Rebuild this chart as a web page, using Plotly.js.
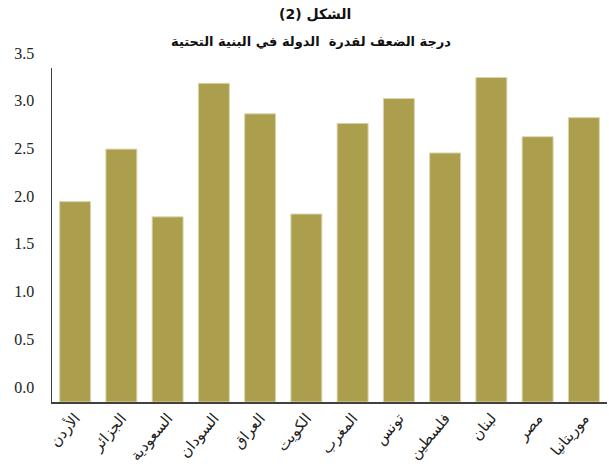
<!DOCTYPE html>
<html>
<head>
<meta charset="utf-8">
<script src="https://cdn.plot.ly/plotly-3.0.1.min.js"></script>
<style>html,body{margin:0;padding:0;background:#fff;}#chart{width:609px;height:464px;}</style>
</head>
<body>
<div id="chart"></div>
<script>
const countries = ["الأردن","الجزائر","السعودية","السودان","العراق","الكويت","المغرب","تونس","فلسطين","لبنان","مصر","موريتانيا"];
const weakness = [2.10, 2.65, 1.94, 3.34, 3.02, 1.97, 2.92, 3.18, 2.61, 3.40, 2.78, 2.98];
const yTicks = [0, 0.5, 1.0, 1.5, 2.0, 2.5, 3.0, 3.5];
const yTickText = ["0.0","0.5","1.0","1.5","2.0","2.5","3.0","3.5"];
const titleLine1 = "الشكل (2)";
const titleLine2 = "درجة الضعف لقدرة  الدولة في البنية التحتية";

Plotly.newPlot("chart", [{
  type: "bar",
  x: countries,
  y: weakness,
  marker: {color: "#ab9f4e", line: {color: "#dcd6b0", width: 1}},
  hoverinfo: "x+y"
}], {
  width: 609, height: 464,
  margin: {l: 52, r: 2, t: 68, b: 62, autoexpand: false},
  paper_bgcolor: "#fff", plot_bgcolor: "#fff",
  bargap: 0.33,
  showlegend: false,
  annotations: [
    {text: "<b>" + titleLine1 + "</b>", xref: "paper", yref: "paper", x: 0.473, y: 1.162,
     xanchor: "center", yanchor: "middle", showarrow: false,
     font: {family: "DejaVu Sans, Noto Sans", size: 14, color: "#111"}},
    {text: "<b>" + titleLine2 + "</b>", xref: "paper", yref: "paper", x: 0.466, y: 1.078,
     xanchor: "center", yanchor: "middle", showarrow: false,
     font: {family: "DejaVu Sans, Noto Sans", size: 13, color: "#111"}}
  ],
  xaxis: {
    type: "category",
    showline: true, linecolor: "#404040", linewidth: 1.5,
    showgrid: false, zeroline: false, ticks: "",
    tickangle: -50, automargin: false,
    tickfont: {family: "DejaVu Sans, Noto Sans", size: 15, color: "#222"}
  },
  yaxis: {
    range: [0, 3.5], tickvals: yTicks, ticktext: yTickText,
    showline: true, linecolor: "#404040", linewidth: 1.5,
    showgrid: false, zeroline: false, ticks: "",
    ticklabelshift: -15, ticklabelstandoff: 13, automargin: false,
    tickfont: {family: "Liberation Serif, serif", size: 16, color: "#222"}
  }
}, {displayModeBar: false, staticPlot: true});
</script>
</body>
</html>
